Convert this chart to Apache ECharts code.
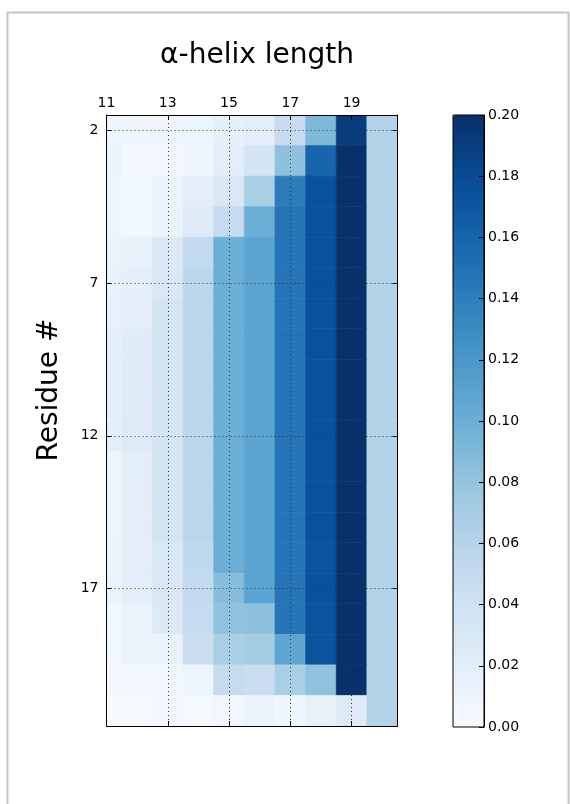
<!DOCTYPE html>
<html>
<head>
<meta charset="utf-8">
<script src="https://cdn.jsdelivr.net/npm/echarts@6/dist/echarts.min.js"></script>
<style>
html,body{margin:0;padding:0;background:#fff;}
#chart{width:570px;height:804px;}
</style>
</head>
<body>
<div id="chart"></div>
<script>
// helix lengths (columns) and residue numbers (rows)
const helixLengths = [11, 12, 13, 14, 15, 16, 17, 18, 19, 20];
const residues = [2, 3, 4, 5, 6, 7, 8, 9, 10, 11, 12, 13, 14, 15, 16, 17, 18, 19, 20, 21];
// fraction per residue row (one entry per helix length)
const fractions = [
  [0.009,0.008,0.009,0.010,0.017,0.020,0.050,0.090,0.191,0.062],
  [0.011,0.005,0.006,0.009,0.020,0.036,0.083,0.159,0.200,0.062],
  [0.010,0.007,0.011,0.020,0.029,0.068,0.142,0.175,0.200,0.062],
  [0.010,0.007,0.012,0.025,0.050,0.100,0.148,0.175,0.200,0.062],
  [0.013,0.016,0.028,0.052,0.100,0.110,0.148,0.175,0.200,0.062],
  [0.014,0.018,0.029,0.058,0.100,0.110,0.148,0.175,0.200,0.062],
  [0.015,0.019,0.036,0.058,0.100,0.110,0.148,0.175,0.200,0.062],
  [0.019,0.024,0.036,0.058,0.100,0.110,0.148,0.175,0.200,0.062],
  [0.019,0.024,0.036,0.058,0.100,0.110,0.148,0.175,0.200,0.062],
  [0.019,0.024,0.036,0.058,0.100,0.110,0.148,0.175,0.200,0.062],
  [0.021,0.025,0.036,0.058,0.100,0.110,0.148,0.175,0.200,0.062],
  [0.010,0.021,0.036,0.058,0.100,0.110,0.148,0.175,0.200,0.062],
  [0.010,0.020,0.036,0.058,0.100,0.110,0.148,0.175,0.200,0.062],
  [0.010,0.020,0.036,0.058,0.100,0.110,0.148,0.175,0.200,0.062],
  [0.012,0.020,0.030,0.053,0.100,0.110,0.148,0.173,0.200,0.062],
  [0.013,0.020,0.029,0.052,0.087,0.110,0.148,0.175,0.200,0.062],
  [0.007,0.013,0.027,0.050,0.081,0.083,0.148,0.173,0.200,0.062],
  [0.007,0.012,0.013,0.045,0.068,0.071,0.108,0.173,0.200,0.062],
  [0.004,0.005,0.006,0.010,0.050,0.045,0.068,0.082,0.200,0.062],
  [0.002,0.002,0.004,0.003,0.006,0.013,0.008,0.015,0.025,0.062]
];
const xTicks = [11, 13, 15, 17, 19];
const yTicks = [2, 7, 12, 17];
const blues = ['#f7fbff','#deebf7','#c6dbef','#9ecae1','#6baed6','#4292c6','#2171b5','#08519c','#08306b'];

const cells = [];
residues.forEach((r, i) => {
  helixLengths.forEach((c, j) => {
    cells.push([c, r, fractions[i][j]]);
  });
});

const FONT = 'DejaVu Sans';
const chart = echarts.init(document.getElementById('chart'), null, {renderer: 'canvas'});

const tickStyle = {show: true, inside: true, length: 5, lineStyle: {color: '#000', width: 1}};
const lineStyle = {show: true, onZero: false, lineStyle: {color: '#000', width: 1}};
const gridLine = {show: true, lineStyle: {color: '#333', width: 1, type: [1, 3]}};

chart.setOption({
  animation: false,
  backgroundColor: '#fff',
  title: {
    text: 'α-helix length',
    left: 252, top: 37, textAlign: 'center',
    textStyle: {fontFamily: FONT, fontSize: 28, fontWeight: 'normal', color: '#000'}
  },
  graphic: [{
    type: 'rect', left: 5, top: 10, silent: true,
    shape: {width: 561, height: 810},
    style: {fill: 'none', stroke: '#c4c4c4', lineWidth: 2}
  }, {
    type: 'text', silent: true,
    x: 50, y: 390, rotation: Math.PI / 2,
    style: {text: 'Residue #', fontFamily: FONT, fontSize: 28, fill: '#000', align: 'center', verticalAlign: 'middle'}
  }],
  grid: [
    {left: 106.5, top: 115, width: 291, height: 611, show: false},
    {left: 453, top: 115, width: 31, height: 612, show: true, borderColor: '#000', borderWidth: 1, backgroundColor: 'transparent', z: 10}
  ],
  xAxis: [
    {
      type: 'value', gridIndex: 0, position: 'top', min: 11, max: 20.5, interval: 2, z: 5,
      axisLine: lineStyle,
      axisTick: Object.assign({customValues: xTicks}, tickStyle),
      axisLabel: {customValues: xTicks, margin: 5, fontFamily: FONT, fontSize: 14, color: '#000'},
      splitLine: gridLine
    },
    {
      type: 'value', gridIndex: 0, position: 'bottom', min: 11, max: 20.5, interval: 2, z: 5,
      axisLine: lineStyle,
      axisTick: Object.assign({customValues: xTicks}, tickStyle),
      axisLabel: {show: false},
      splitLine: {show: false}
    },
    {type: 'value', gridIndex: 1, min: 0, max: 1, show: false}
  ],
  yAxis: [
    {
      type: 'value', gridIndex: 0, position: 'left', inverse: true, min: 1.5, max: 21.5, z: 5,
      axisLine: lineStyle,
      axisTick: Object.assign({customValues: yTicks}, tickStyle),
      axisLabel: {customValues: yTicks, margin: 8, fontFamily: FONT, fontSize: 14, color: '#000'},
      splitLine: gridLine
    },
    {
      type: 'value', gridIndex: 0, position: 'right', inverse: true, min: 1.5, max: 21.5, z: 5,
      axisLine: lineStyle,
      axisTick: Object.assign({customValues: yTicks}, tickStyle),
      axisLabel: {show: false},
      splitLine: {show: false}
    },
    {
      type: 'value', gridIndex: 1, position: 'right', min: 0, max: 0.2, interval: 0.02, z: 11,
      axisLine: lineStyle,
      axisTick: tickStyle,
      axisLabel: {margin: 4, fontFamily: FONT, fontSize: 14, color: '#000', formatter: v => v.toFixed(2)},
      splitLine: {show: false}
    }
  ],
  visualMap: [{
    type: 'continuous', min: 0, max: 0.2, dimension: 2, seriesIndex: 0,
    inRange: {color: blues},
    show: true, calculable: false, hoverLink: false,
    orient: 'vertical', left: 453, top: 115, itemWidth: 31, itemHeight: 612, padding: 0,
    z: 4
  }],
  series: [{
    type: 'custom',
    xAxisIndex: 0, yAxisIndex: 0,
    clip: true,
    data: cells,
    renderItem: function (params, api) {
      const x = api.value(0), y = api.value(1);
      const p0 = api.coord([x - 0.5, y - 0.5]);
      const p1 = api.coord([x + 0.5, y + 0.5]);
      const rect = echarts.graphic.clipRectByRect({
        x: Math.min(p0[0], p1[0]), y: Math.min(p0[1], p1[1]),
        width: Math.abs(p1[0] - p0[0]), height: Math.abs(p1[1] - p0[1])
      }, {
        x: params.coordSys.x, y: params.coordSys.y,
        width: params.coordSys.width, height: params.coordSys.height
      });
      if (!rect) return;
      const color = api.visual('color');
      return {type: 'rect', shape: rect, style: {fill: color, stroke: color, lineWidth: 0.6}};
    }
  }]
});
</script>
</body>
</html>
